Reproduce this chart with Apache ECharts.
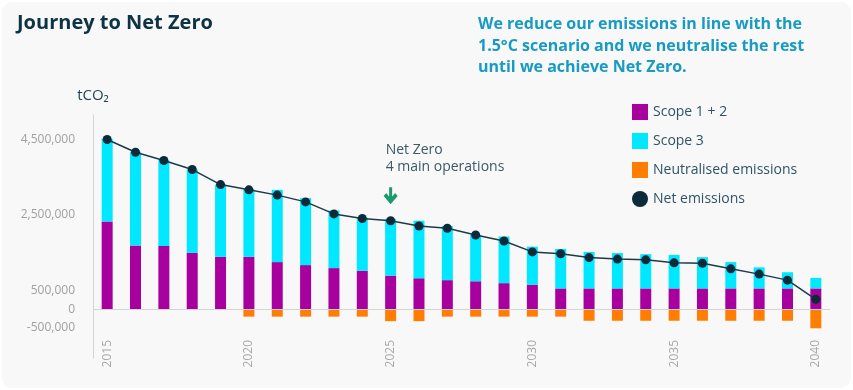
<!DOCTYPE html>
<html>
<head>
<meta charset="utf-8">
<script src="https://cdn.jsdelivr.net/npm/echarts@6/dist/echarts.min.js"></script>
<style>
html,body{margin:0;padding:0;background:#ffffff;}
#wrap{position:absolute;left:2px;top:2px;width:849px;height:386px;background:#f8f8f8;border-radius:10px;overflow:hidden;}
#chart{position:absolute;left:-2px;top:-2px;width:853px;height:390px;}
</style>
</head>
<body>
<div id="wrap"><div id="chart"></div></div>
<script>
const years = ['2015','2016','2017','2018','2019','2020','2021','2022','2023','2024','2025','2026','2027','2028','2029','2030','2031','2032','2033','2034','2035','2036','2037','2038','2039','2040'];
const scope12 = [2330000,1690000,1680000,1500000,1390000,1390000,1250000,1170000,1090000,1020000,890000,820000,770000,740000,690000,650000,550000,550000,550000,550000,550000,550000,550000,550000,550000,550000];
const scope3 = [2200000,2490000,2280000,2210000,1920000,1800000,1920000,1780000,1530000,1410000,1510000,1530000,1440000,1230000,1240000,1010000,1050000,970000,940000,910000,890000,830000,700000,560000,430000,280000];
const neutralised = [0,0,0,0,0,-200000,-200000,-200000,-200000,-200000,-320000,-320000,-200000,-200000,-200000,-200000,-200000,-310000,-310000,-310000,-310000,-310000,-310000,-310000,-310000,-510000];
const netEmissions = [4510000,4170000,3950000,3710000,3310000,3170000,3030000,2850000,2530000,2410000,2350000,2210000,2150000,1970000,1810000,1520000,1470000,1370000,1330000,1310000,1230000,1220000,1070000,930000,770000,260000];
const yTickValues = [4500000,2500000,500000,0,-500000];
const annotationYear = '2025';
const annotationText = 'Net Zero\n4 main operations';

const FONT = '"Open Sans", sans-serif';
const chart = echarts.init(document.getElementById('chart'));
const annIdx = years.indexOf(annotationYear);

chart.setOption({
  backgroundColor: 'transparent',
  textStyle: { fontFamily: FONT },
  title: [
    { text: 'Journey to Net Zero', left: 12, top: 8,
      textStyle: { fontFamily: FONT, fontSize: 20, fontWeight: 'bold', color: '#0d3345' } },
    { text: 'We reduce our emissions in line with the\n1.5°C scenario and we neutralise the rest\nuntil we achieve Net Zero.',
      left: 473, top: 9,
      textStyle: { fontFamily: FONT, fontSize: 16, fontWeight: 'bold', color: '#179bc2', lineHeight: 21.5 } }
  ],
  legend: {
    orient: 'vertical', left: 632, top: 104, padding: 0,
    itemWidth: 16, itemHeight: 16, itemGap: 13,
    textStyle: { fontFamily: FONT, fontSize: 14, color: '#2d5566' },
    data: [
      { name: 'Scope 1 + 2', icon: 'rect' },
      { name: 'Scope 3', icon: 'rect' },
      { name: 'Neutralised emissions', icon: 'rect' },
      { name: 'Net emissions', icon: 'circle' }
    ]
  },
  grid: { left: 93, right: 23, top: 115, bottom: 32, containLabel: false, outerBoundsMode: 'none' },
  xAxis: {
    type: 'category', data: years, boundaryGap: true,
    axisLine: { show: false, onZero: false },
    axisTick: { show: false },
    axisLabel: { interval: 4, rotate: 90, margin: -18, fontSize: 12, color: '#a8a8a8', fontFamily: FONT }
  },
  yAxis: {
    type: 'value', min: -1300000, max: 5160000,
    name: 'tCO₂', nameLocation: 'end', nameGap: 12,
    nameTextStyle: { fontFamily: FONT, fontSize: 15, color: '#1f4654', align: 'center' },
    axisLine: { show: true, lineStyle: { color: '#d4d4d4', width: 1 } },
    axisTick: { show: false },
    splitLine: { show: false },
    axisLabel: {
      customValues: yTickValues, margin: 18, fontSize: 12, color: '#a0a0a0', fontFamily: FONT,
      formatter: v => v.toLocaleString('en-US')
    }
  },
  series: [
    { name: 'Scope 1 + 2', type: 'bar', stack: 'total', data: scope12, barWidth: 11,
      itemStyle: { color: '#a8009e' },
      markLine: { silent: true, symbol: 'none', label: { show: false },
        lineStyle: { color: '#d4d4d4', width: 1, type: 'solid' },
        data: [{ yAxis: 0 }] } },
    { name: 'Scope 3', type: 'bar', stack: 'total', data: scope3, barWidth: 11,
      itemStyle: { color: '#00e8ff' } },
    { name: 'Neutralised emissions', type: 'bar', stack: 'total', data: neutralised, barWidth: 11,
      itemStyle: { color: '#ff7d00' } },
    { name: 'Net emissions', type: 'line', data: netEmissions, z: 5,
      symbol: 'circle', symbolSize: 9, showSymbol: true,
      lineStyle: { color: '#1c3a47', width: 1.5 },
      itemStyle: { color: '#0b2a3a' },
      markPoint: {
        silent: true,
        data: [{
          coord: [annIdx, netEmissions[annIdx]],
          symbol: 'path://M5.5,0 L8.5,0 L8.5,8 L11.5,5 L14,7.5 L7,14.5 L0,7.5 L2.5,5 L5.5,8 Z',
          symbolSize: [14, 17], symbolOffset: [0, -25],
          itemStyle: { color: '#1a9b6c' },
          label: { show: true, position: 'top', distance: 12, align: 'left', offset: [-5, 0],
            formatter: annotationText, fontFamily: FONT, fontSize: 14, color: '#3a5a66', lineHeight: 17 }
        }]
      }
    }
  ]
});
</script>
</body>
</html>
